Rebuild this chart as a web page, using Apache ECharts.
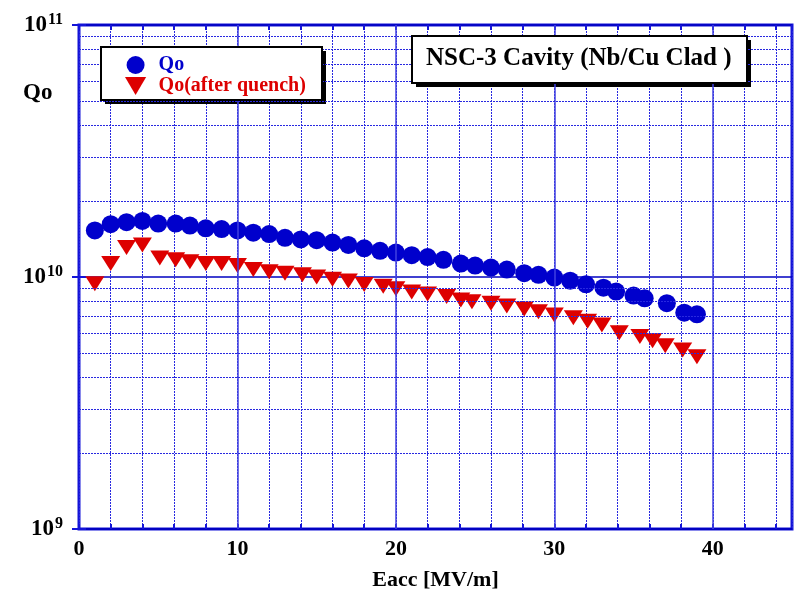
<!DOCTYPE html>
<html>
<head>
<meta charset="utf-8">
<script src="https://cdn.jsdelivr.net/npm/echarts@6/dist/echarts.min.js"></script>
<style>
  html, body { margin: 0; padding: 0; background: #fff; }
  #chart { width: 797px; height: 598px; }
</style>
</head>
<body>
<div id="chart"></div>
<script>
// Eacc [MV/m] and Qo
const qoEacc = [1, 2, 3, 4, 5, 6.1, 7, 8, 9, 10, 11, 12, 13, 14, 15, 16, 17, 18, 19, 20,
  21, 22, 23, 24.1, 25, 26, 27, 28.1, 29, 30, 31, 32, 33.1, 33.9, 35, 35.7, 37.1, 38.2, 39];
const qoValues = [1.53e10, 1.62e10, 1.65e10, 1.67e10, 1.63e10, 1.63e10, 1.60e10, 1.56e10, 1.55e10, 1.53e10,
  1.50e10, 1.48e10, 1.43e10, 1.41e10, 1.40e10, 1.37e10, 1.34e10, 1.30e10, 1.27e10, 1.25e10,
  1.22e10, 1.20e10, 1.17e10, 1.13e10, 1.11e10, 1.09e10, 1.07e10, 1.035e10, 1.02e10, 9.95e9,
  9.67e9, 9.35e9, 9.07e9, 8.75e9, 8.44e9, 8.23e9, 7.87e9, 7.22e9, 7.11e9];

const quenchEacc = [1, 2, 3, 4, 5.1, 6.1, 7, 8, 9, 10, 11, 12, 13, 14.1, 15, 16, 17, 18, 19.2, 20,
  21, 22, 23.2, 24.1, 24.8, 26, 27, 28.1, 29, 30, 31.2, 32.1, 33, 34.1, 35.4, 36.2, 37, 38.1, 39];
const quenchValues = [9.4e9, 1.13e10, 1.31e10, 1.34e10, 1.19e10, 1.17e10, 1.15e10, 1.13e10, 1.13e10, 1.11e10,
  1.07e10, 1.05e10, 1.035e10, 1.02e10, 1.0e10, 9.8e9, 9.65e9, 9.33e9, 9.2e9, 8.98e9,
  8.71e9, 8.57e9, 8.36e9, 8.11e9, 7.98e9, 7.87e9, 7.68e9, 7.47e9, 7.28e9, 7.06e9,
  6.89e9, 6.68e9, 6.45e9, 6.01e9, 5.80e9, 5.59e9, 5.34e9, 5.13e9, 4.83e9];

const xMajorLines = [10, 20, 30, 40];
const yMinorLines = [2e9, 3e9, 4e9, 5e9, 6e9, 7e9, 8e9, 9e9, 2e10, 3e10, 4e10, 5e10, 6e10, 7e10, 8e10, 9e10];

const BLUE = '#0000cc';
const RED = '#dd0000';
const FRAME = '#1414d8';
const FONT = 'Liberation Serif';
const downTriangle = 'path://M0,0 L20,0 L10,17 Z';

// boxes with a hard black drop shadow (legend and title)
function shadowBox(x, y, w, h) {
  return [
    { type: 'rect', z: 5, silent: true, shape: { x: x + 4, y: y + 4, width: w, height: h }, style: { fill: '#000' } },
    { type: 'rect', z: 6, silent: true, shape: { x: x, y: y, width: w, height: h }, style: { fill: '#fff', stroke: '#000', lineWidth: 2 } }
  ];
}

const chart = echarts.init(document.getElementById('chart'));

chart.setOption({
  animation: false,
  backgroundColor: '#fff',
  textStyle: { fontFamily: FONT, fontWeight: 'bold', color: '#000' },
  grid: {
    left: 79, right: 5, top: 25, bottom: 69,
    show: true, borderColor: FRAME, borderWidth: 3, backgroundColor: 'transparent'
  },
  title: {
    text: 'NSC-3 Cavity (Nb/Cu Clad )',
    left: 412, top: 37, z: 10,
    padding: [9, 12, 9, 14],
    textStyle: { fontFamily: FONT, fontWeight: 'bold', fontSize: 25, color: '#000' }
  },
  legend: {
    orient: 'vertical',
    left: 101, top: 47, z: 10,
    padding: [8, 10, 8, 24],
    itemGap: 1,
    itemWidth: 36, itemHeight: 18,
    selectedMode: false,
    textStyle: { fontFamily: FONT, fontWeight: 'bold', fontSize: 20 },
    data: [
      { name: 'Qo', icon: 'circle', textStyle: { color: BLUE } },
      { name: 'Qo(after quench)', icon: downTriangle, textStyle: { color: RED } }
    ]
  },
  graphic: [
    ...shadowBox(101, 47, 221, 53),
    ...shadowBox(412, 36, 335, 47),
    { type: 'text', left: 23, top: 82,
      style: { text: 'Qo', fontFamily: FONT, fontWeight: 'bold', fontSize: 23, fill: '#000' } }
  ],
  xAxis: [{
    type: 'value', min: 0, max: 45, interval: 2,
    name: 'Eacc [MV/m]', nameLocation: 'middle', nameGap: 40,
    nameTextStyle: { fontFamily: FONT, fontWeight: 'bold', fontSize: 22, color: '#000' },
    axisLine: { show: false },
    axisTick: { inside: true, length: 5, lineStyle: { color: FRAME, width: 2 } },
    axisLabel: {
      margin: 9, fontFamily: FONT, fontWeight: 'bold', fontSize: 22, color: '#000',
      showMaxLabel: false,
      formatter: (v) => (v % 10 === 0 ? String(v) : '')
    },
    splitLine: { show: true, lineStyle: { color: '#2828e0', type: [2, 1], width: 1 } }
  }, {
    type: 'value', min: 0, max: 45, interval: 2, position: 'top',
    axisLine: { show: false },
    axisTick: { inside: true, length: 5, lineStyle: { color: FRAME, width: 2 } },
    axisLabel: { show: false },
    splitLine: { show: false }
  }],
  yAxis: [{
    type: 'log', logBase: 10, min: 1e9, max: 1e11,
    axisLine: { show: false },
    axisTick: { inside: true, length: 7, lineStyle: { color: FRAME, width: 2 } },
    axisLabel: {
      margin: 16,
      formatter: (v) => '{b|10}{s|' + Math.round(Math.log10(v)) + '}',
      rich: {
        b: { fontFamily: FONT, fontWeight: 'bold', fontSize: 23, color: '#000', lineHeight: 26 },
        s: { fontFamily: FONT, fontWeight: 'bold', fontSize: 16, color: '#000', verticalAlign: 'top', lineHeight: 26, padding: [0, 0, 14, 1] }
      }
    },
    splitLine: { show: true, lineStyle: { color: '#0000c0', width: 1.5 } }
  }, {
    type: 'log', logBase: 10, min: 1e9, max: 1e11, position: 'right',
    axisLine: { show: false },
    axisTick: { inside: true, length: 7, lineStyle: { color: FRAME, width: 2 } },
    axisLabel: { show: false },
    splitLine: { show: false }
  }],
  series: [
    {
      name: 'gridlines', type: 'line', data: [], z: 1, silent: true,
      markLine: {
        silent: true, symbol: 'none', animation: false,
        label: { show: false },
        data: [
          ...xMajorLines.map((x) => ({ xAxis: x, lineStyle: { color: '#4040e0', type: 'solid', width: 1.5 } })),
          ...yMinorLines.map((y) => ({ yAxis: y, lineStyle: { color: '#2828e0', type: [2, 1], width: 1 } }))
        ]
      }
    },
    {
      name: 'Qo', type: 'scatter', z: 3,
      symbol: 'circle', symbolSize: 18,
      itemStyle: { color: BLUE, opacity: 1 },
      data: qoEacc.map((x, i) => [x, qoValues[i]])
    },
    {
      name: 'Qo(after quench)', type: 'scatter', z: 3,
      symbol: downTriangle, symbolSize: [19, 15],
      itemStyle: { color: RED, opacity: 1 },
      data: quenchEacc.map((x, i) => [x, quenchValues[i]])
    }
  ]
});
</script>
</body>
</html>
